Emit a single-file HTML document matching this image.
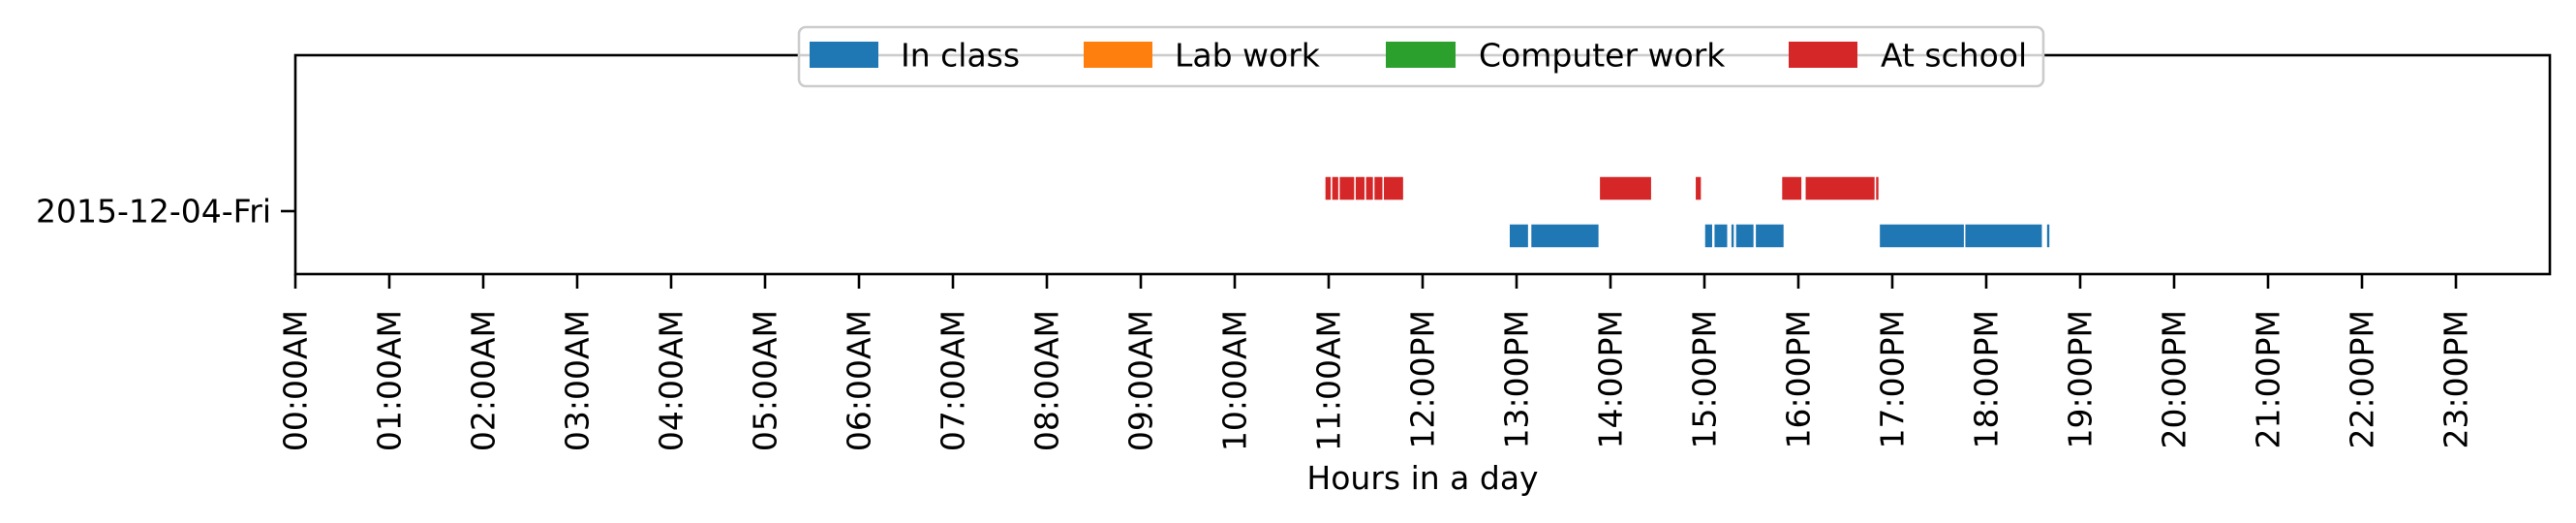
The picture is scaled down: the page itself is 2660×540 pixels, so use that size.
<!DOCTYPE html>
<html><head><meta charset="utf-8"><style>
html,body{margin:0;padding:0;background:#fff}
svg{display:block;font-family:"DejaVu Sans","Liberation Sans",sans-serif}
</style></head><body>
<svg id="chart" width="2660" height="540" viewBox="0 0 2660 540">
<g id="bars"></g>
<rect x="305" y="57" width="2328" height="226" fill="none" stroke="#000" stroke-width="2.6"/>
<g id="xticks"></g>
<line x1="290" y1="218" x2="305" y2="218" stroke="#000" stroke-width="2.6"/>
<text x="280" y="218" text-anchor="end" dominant-baseline="central" font-size="33">2015-12-04-Fri</text>
<text x="1469" y="505" text-anchor="middle" font-size="33">Hours in a day</text>
<g>
<rect x="825" y="28" width="1285" height="61" rx="7" fill="rgba(255,255,255,0.8)" stroke="#ccc" stroke-width="2.6"/>
<g><rect x="836" y="43" width="71" height="27" fill="#1f77b4"/><text x="930" y="57" dominant-baseline="central" font-size="33">In class</text></g>
<g><rect x="1119" y="43" width="71" height="27" fill="#ff7f0e"/><text x="1213" y="57" dominant-baseline="central" font-size="33">Lab work</text></g>
<g><rect x="1431" y="43" width="72" height="27" fill="#2ca02c"/><text x="1527" y="57" dominant-baseline="central" font-size="33">Computer work</text></g>
<g><rect x="1847" y="43" width="71" height="27" fill="#d62728"/><text x="1942" y="57" dominant-baseline="central" font-size="33">At school</text></g>
</g>
</svg>
<script>
const tickLabels = ["00:00AM","01:00AM","02:00AM","03:00AM","04:00AM","05:00AM","06:00AM","07:00AM","08:00AM","09:00AM","10:00AM","11:00AM","12:00PM","13:00PM","14:00PM","15:00PM","16:00PM","17:00PM","18:00PM","19:00PM","20:00PM","21:00PM","22:00PM","23:00PM"];
const schoolStart = [10.958,11.03,11.11,11.28,11.39,11.48,11.58,13.88,14.90,15.82,16.07,16.82];
const schoolEnd   = [11.03,11.11,11.28,11.39,11.48,11.58,11.80,14.44,14.97,16.04,16.82,16.86];
const classStart  = [12.92,13.15,15.00,15.10,15.28,15.33,15.54,16.86,17.77,18.64];
const classEnd    = [13.13,13.88,15.09,15.25,15.32,15.53,15.85,17.77,18.60,18.68];
const NS="http://www.w3.org/2000/svg";
const X0=305, X1=2633, XMAX=24;
function xs(h){return X0+(X1-X0)*h/XMAX;}
const xt=document.getElementById('xticks');
tickLabels.forEach((lab,i)=>{
  const x=xs(i);
  const l=document.createElementNS(NS,'line');
  l.setAttribute('x1',x);l.setAttribute('x2',x);l.setAttribute('y1',283);l.setAttribute('y2',298);
  l.setAttribute('stroke','#000');l.setAttribute('stroke-width','2.6');
  
  
  xt.appendChild(l);
  const t=document.createElementNS(NS,'text');
  t.setAttribute('transform','translate('+x+',320) rotate(-90)');
  t.setAttribute('text-anchor','end');t.setAttribute('dominant-baseline','central');
  t.setAttribute('font-size','33');t.textContent=lab;
  
  
  xt.appendChild(t);
});
const bg=document.getElementById('bars');
function draw(starts,ends,y,h,color,name){
  starts.forEach((s,i)=>{
    const r=document.createElementNS(NS,'rect');
    r.setAttribute('x',xs(s));r.setAttribute('width',xs(ends[i])-xs(s));
    r.setAttribute('y',y);r.setAttribute('height',h);
    r.setAttribute('fill',color);r.setAttribute('stroke','#fff');r.setAttribute('stroke-width','1.5');
    
    
    bg.appendChild(r);
  });
}
draw(schoolStart,schoolEnd,182,25,'#d62728','bar-at-school');
draw(classStart,classEnd,231,25,'#1f77b4','bar-in-class');
</script>
</body></html>
